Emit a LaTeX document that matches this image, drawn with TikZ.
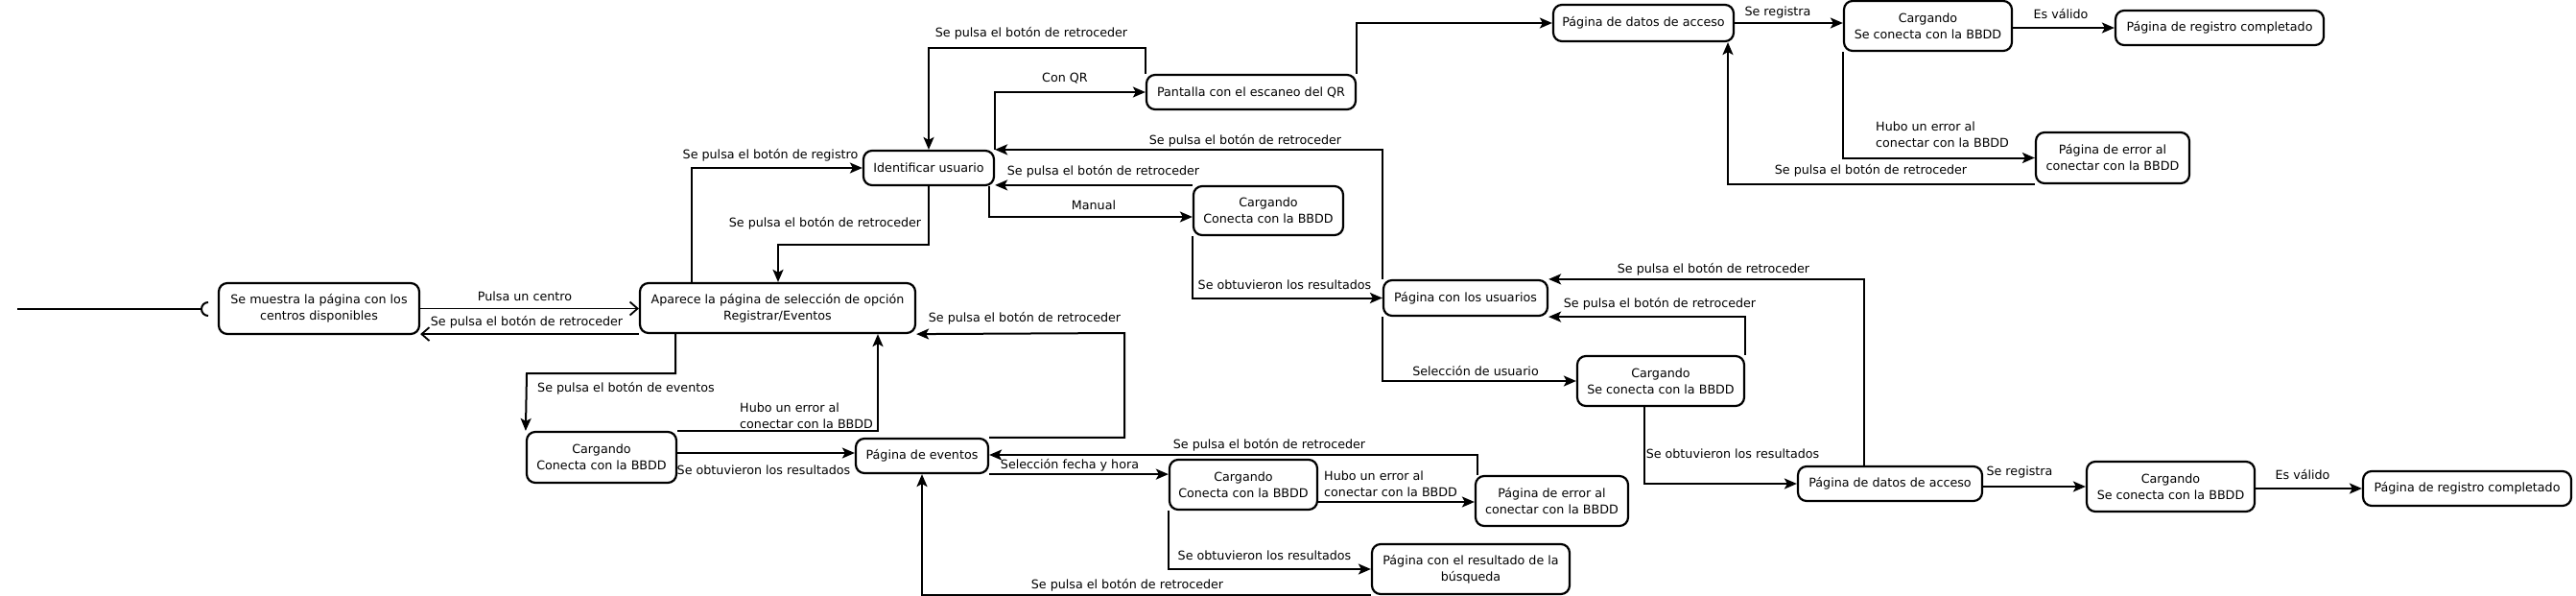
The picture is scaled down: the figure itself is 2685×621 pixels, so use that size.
\documentclass[tikz,border=0pt]{standalone}
\usepackage{fontspec}
\setmainfont{DejaVu Sans}
\usetikzlibrary{arrows.meta}
\begin{document}
\begin{tikzpicture}[x=1pt,y=-1pt,
  font=\fontsize{12.7}{17}\selectfont,
  box/.style={draw, rounded corners=9pt, line width=2.2pt, align=center, inner sep=0pt},
  lbl/.style={inner sep=0pt, align=left},
  line/.style={line width=2pt},
  arr/.style={line width=2pt, -{Stealth[length=13pt,width=11pt,inset=3pt]}},
  oarr/.style={line width=1.8pt, -{Straight Barb[length=8pt,width=14pt]}}]
\useasboundingbox (0,0) rectangle (2685,621);

% nodes
\node[box, minimum width=209pt, minimum height=53pt] (N1) at (332.5,321.5) {Se muestra la página con los\\centros disponibles};
\node[box, minimum width=287pt, minimum height=52pt] (N2) at (810.5,321) {Aparece la página de selección de opción\\Registrar/Eventos};
\node[box, minimum width=136pt, minimum height=36pt] (N3) at (968,175) {Identificar usuario};
\node[box, minimum width=218pt, minimum height=36pt] (N4) at (1304,96) {Pantalla con el escaneo del QR};
\node[box, minimum width=156pt, minimum height=51pt] (N5) at (1322,219.5) {Cargando\\Conecta con la BBDD};
\node[box, minimum width=188pt, minimum height=38pt] (N6) at (1713,24) {Página de datos de acceso};
\node[box, minimum width=175pt, minimum height=52pt] (N7) at (2009.5,27) {Cargando\\Se conecta con la BBDD};
\node[box, minimum width=217pt, minimum height=36pt] (N8) at (2313.5,29) {Página de registro completado};
\node[box, minimum width=160pt, minimum height=53pt] (N9) at (2202,164.5) {Página de error al\\conectar con la BBDD};
\node[box, minimum width=171pt, minimum height=37pt] (N10) at (1527.5,310.5) {Página con los usuarios};
\node[box, minimum width=174pt, minimum height=52pt] (N11) at (1731,397) {Cargando\\Se conecta con la BBDD};
\node[box, minimum width=192pt, minimum height=36pt] (N12) at (1970,504) {Página de datos de acceso};
\node[box, minimum width=175pt, minimum height=52pt] (N13) at (2262.5,507) {Cargando\\Se conecta con la BBDD};
\node[box, minimum width=217pt, minimum height=36pt] (N14) at (2571.5,509) {Página de registro completado};
\node[box, minimum width=156pt, minimum height=53pt] (N15) at (627,476.5) {Cargando\\Conecta con la BBDD};
\node[box, minimum width=138pt, minimum height=36pt] (N16) at (961,475) {Página de eventos};
\node[box, minimum width=154pt, minimum height=52pt] (N17) at (1296,505) {Cargando\\Conecta con la BBDD};
\node[box, minimum width=159pt, minimum height=52pt] (N18) at (1617.5,522) {Página de error al\\conectar con la BBDD};
\node[box, minimum width=206pt, minimum height=52pt] (N19) at (1533,593) {Página con el resultado de la\\búsqueda};

% start socket
\coordinate (start) at (18,322);
\coordinate (sock) at (210,322);
\draw[line] (start) -- (sock);
\draw[line] (sock) ++(7pt,7pt) arc[start angle=90,end angle=270,radius=7pt];

% connectors
\draw[oarr] (N1.east) -- (N1.east -| N2.west);
\draw[oarr] (N2.south west) -- (N2.south west -| N1.east);
\draw[arr] (N2.south -| 704,0) |- (549,389) -- (N15.north west);
\draw[arr] (N15.north east) -| (N2.south -| 915,0);
\draw[arr] (N15.east |- 0,472) -- (N16.west |- 0,472);
\draw[arr] (N16.north east) -| (1172,347) -- (N2.south east);
\draw[arr] (N16.south east) -- (N16.south east -| N17.west);
\draw[arr] (N18.north -| 1540,0) |- (N16.east |- 0,474);
\draw[arr] (N17.east |- 0,523) -- (N18.west |- 0,523);
\draw[arr] (N17.south west) |- (N19.west);
\draw[arr] (N19.south west) -| (N16.south);
\draw[arr] (N2.north -| 721,0) |- (N3.west);
\draw[arr] (N3.south) -- ++(0,61) -| (N2.north -| 811,0);
\draw[arr] (N4.north west) -- ++(0,-27) -| (N3.north);
\draw[arr] (N3.north east) |- (N4.west);
\draw[arr] (N10.north west) |- (N3.north east);
\draw[arr] (N5.north west) -- (N5.north west -| N3.south east);
\draw[arr] (N3.south east -| 1031,0) |- (N5.west |- 0,226);
\draw[arr] (N5.south west) |- (N10.west);
\draw[arr] (N4.north east) |- (N6.west);
\draw[arr] (N6.east) -- (N6.east -| N7.west);
\draw[arr] (N7.east |- N8.west) -- (N8.west);
\draw[arr] (N7.south west) |- (N9.west);
\draw[arr] (N9.south west) -| (N6.south -| 1801,0);
\draw[arr] (N10.south west) |- (N11.west);
\draw[arr] (N11.north east) |- (N10.south east);
\draw[arr] (N12.north -| 1943,0) |- (N10.north east);
\draw[arr] (N11.south -| 1714,0) |- (N12.west);
\draw[arr] (N12.east |- 0,507) -- (N13.west |- 0,507);
\draw[arr] (N13.east |- 0,509) -- (N14.west);

% labels
\node[lbl] (L1) at (547,309) {Pulsa un centro};
\node[lbl] (L2) at (549,336) {Se pulsa el botón de retroceder};
\node[lbl, anchor=west] (L3) at (560,405) {Se pulsa el botón de eventos};
\node[lbl, anchor=west] (L4) at (771,433) {Hubo un error al\\conectar con la BBDD};
\node[lbl] (L5) at (796,490) {Se obtuvieron los resultados};
\node[lbl] (L6) at (1068,332) {Se pulsa el botón de retroceder};
\node[lbl] (L7) at (1115,485) {Selección fecha y hora};
\node[lbl] (L8) at (1323,464) {Se pulsa el botón de retroceder};
\node[lbl, anchor=west] (L9) at (1380,504) {Hubo un error al\\conectar con la BBDD};
\node[lbl] (L10) at (1318,579) {Se obtuvieron los resultados};
\node[lbl] (L11) at (1175,610) {Se pulsa el botón de retroceder};
\node[lbl] (L12) at (803,162) {Se pulsa el botón de registro};
\node[lbl] (L13) at (860,233) {Se pulsa el botón de retroceder};
\node[lbl] (L14) at (1075,35) {Se pulsa el botón de retroceder};
\node[lbl] (L15) at (1110,82) {Con QR};
\node[lbl] (L16) at (1298,147) {Se pulsa el botón de retroceder};
\node[lbl] (L17) at (1150,179) {Se pulsa el botón de retroceder};
\node[lbl] (L18) at (1140,214) {Manual};
\node[lbl] (L19) at (1339,297) {Se obtuvieron los resultados};
\node[lbl] (L21) at (1853,13) {Se registra};
\node[lbl] (L22) at (2148,15) {Es válido};
\node[lbl, anchor=west] (L23) at (1955,140) {Hubo un error al\\conectar con la BBDD};
\node[lbl] (L24) at (1950,178) {Se pulsa el botón de retroceder};
\node[lbl] (L25) at (1538,387) {Selección de usuario};
\node[lbl] (L26) at (1730,317) {Se pulsa el botón de retroceder};
\node[lbl] (L27) at (1786,281) {Se pulsa el botón de retroceder};
\node[lbl] (L28) at (1806,473) {Se obtuvieron los resultados};
\node[lbl] (L29) at (2105,492) {Se registra};
\node[lbl] (L30) at (2400,495) {Es válido};
\end{tikzpicture}
\end{document}
